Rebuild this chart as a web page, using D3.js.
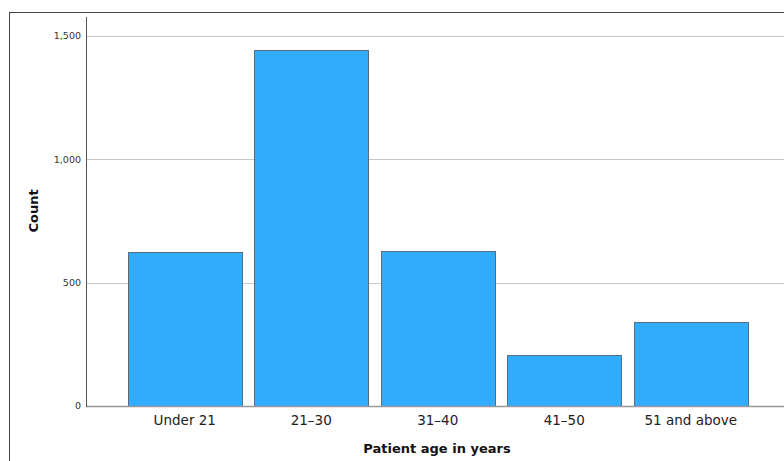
<!DOCTYPE html>
<html><head><meta charset="utf-8">
<script src="https://cdn.jsdelivr.net/npm/d3@7"></script>
<style>body{margin:0;background:#fff}svg{display:block}</style>
</head><body>
<svg id="c" width="784" height="461"></svg>
<script>
const categories = ["Under 21", "21-30", "31-40", "41-50", "51 and above"];
const counts = [624, 1443, 628, 207, 340];
const yTicks = [0, 500, 1000, 1500];
const xTitle = "Patient age in years";
const yTitle = "Count";

const svg = d3.select("#c");
const font = "'DejaVu Sans', sans-serif";

// outer frame
svg.append("rect").attr("x", 9.5).attr("y", 12.5).attr("width", 900).attr("height", 600)
  .attr("fill", "none").attr("stroke", "#444").attr("stroke-width", 1);

const y = d3.scaleLinear().domain([0, 1500]).range([406, 36]);
const x = d3.scaleBand().domain(categories).range([121.5, 754]).paddingInner(0.1).paddingOuter(0.05);

// gridlines
svg.append("g").selectAll("line").data(yTicks.filter(d => d > 0)).join("line")
  .attr("x1", 86).attr("x2", 784)
  .attr("y1", d => Math.round(y(d)) + 0.5).attr("y2", d => Math.round(y(d)) + 0.5)
  .attr("stroke", "#c8c8c8").attr("stroke-width", 1);

// bars
svg.append("g").selectAll("rect").data(categories).join("rect")
  .attr("x", d => Math.round(x(d)) + 0.5)
  .attr("y", (d, i) => Math.round(y(counts[i])) + 0.5)
  .attr("width", Math.round(x.bandwidth()))
  .attr("height", (d, i) => Math.round(y(0)) - Math.round(y(counts[i])))
  .attr("fill", "#31adff").attr("stroke", "#5a6d7c").attr("stroke-width", 1);

// x axis baseline
svg.append("line").attr("x1", 86).attr("x2", 784).attr("y1", 406.5).attr("y2", 406.5)
  .attr("stroke", "#999").attr("stroke-width", 1.5);
// y axis line
svg.append("line").attr("x1", 86.5).attr("x2", 86.5).attr("y1", 17).attr("y2", 407)
  .attr("stroke", "#555").attr("stroke-width", 1);

// y tick labels
svg.append("g").selectAll("text").data(yTicks).join("text")
  .attr("x", 81).attr("y", d => y(d)).attr("dy", "0.35em")
  .attr("text-anchor", "end").attr("font-family", font).attr("font-size", 9.5).attr("fill", "#333")
  .text(d => d3.format(",")(d));

// x tick labels
svg.append("g").selectAll("text").data(categories).join("text")
  .attr("x", d => x(d) + x.bandwidth() / 2).attr("y", 425)
  .attr("text-anchor", "middle").attr("font-family", font).attr("font-size", 13.5).attr("fill", "#222")
  .text(d => d.replace("-", "–"));

// axis titles
svg.append("text").attr("x", 437).attr("y", 453).attr("text-anchor", "middle")
  .attr("font-family", font).attr("font-size", 13).attr("font-weight", "bold").attr("fill", "#111")
  .text(xTitle);
svg.append("text").attr("transform", "translate(38,211) rotate(-90)").attr("text-anchor", "middle")
  .attr("font-family", font).attr("font-size", 13).attr("font-weight", "bold").attr("fill", "#111")
  .text(yTitle);
</script>
</body></html>
